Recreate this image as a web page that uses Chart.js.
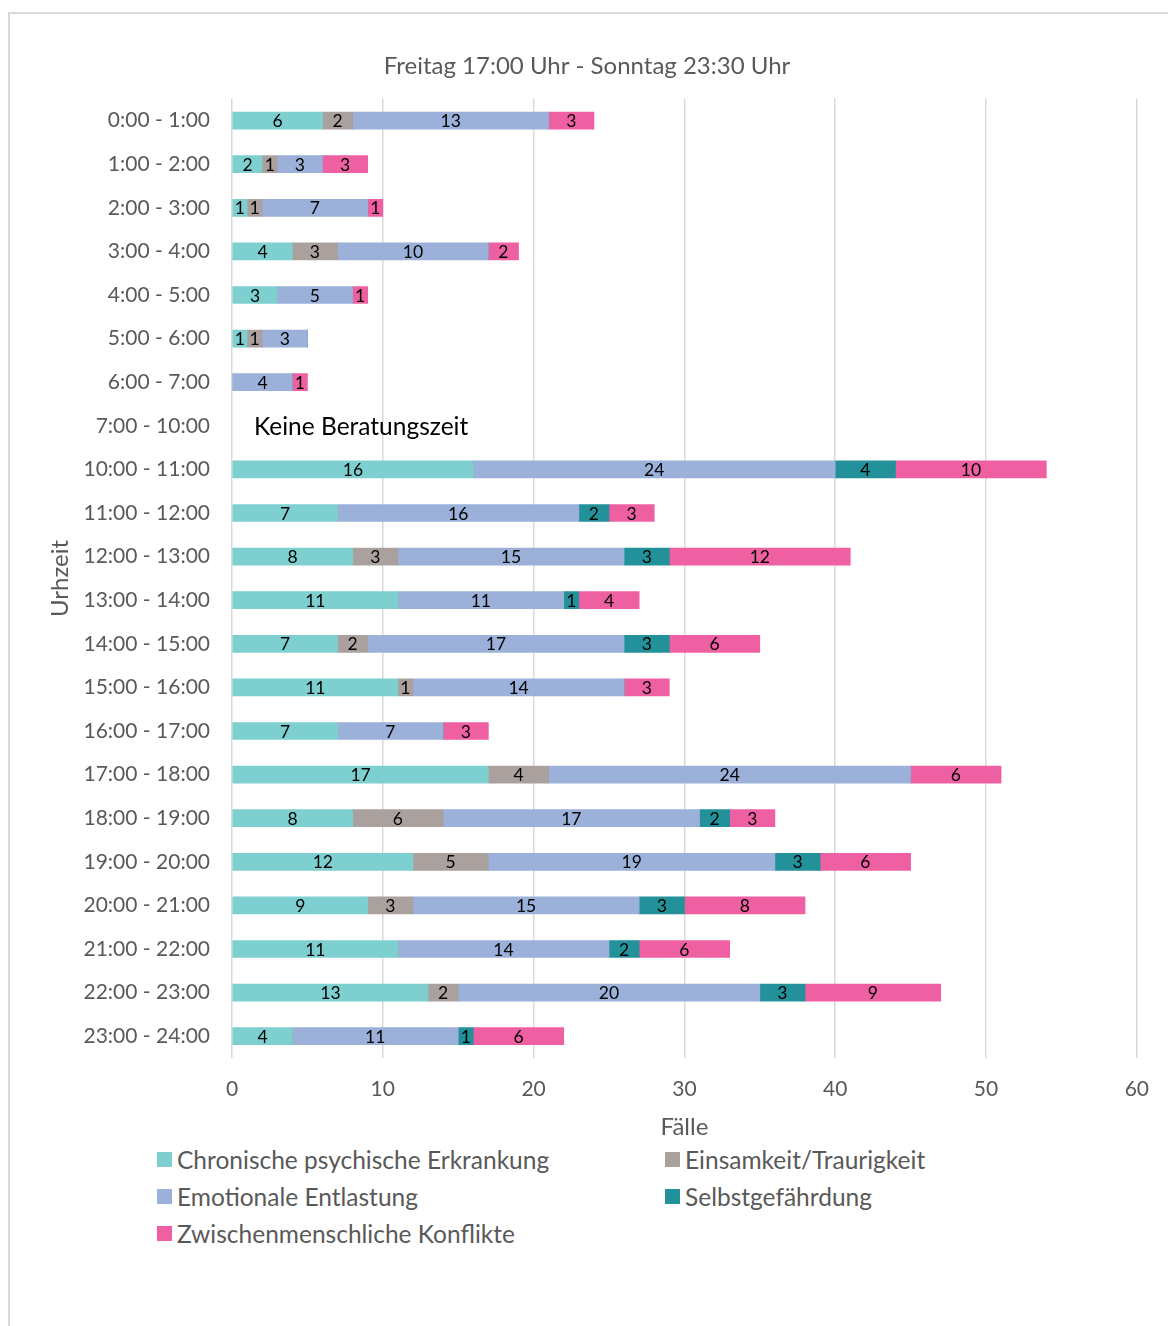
<!DOCTYPE html>
<html>
<head>
<meta charset="utf-8">
<script src="https://cdn.jsdelivr.net/npm/chart.js@4"></script>
<style>
    body { margin: 0; background: #fff; font-family: Lato, sans-serif; }
    #frame { position: absolute; left: 8px; top: 12px; width: 1200px; height: 1400px; border: 2px solid #d9d9d9; box-sizing: border-box; }
    #wrap { position: absolute; left: 0; top: 0; width: 1168px; height: 1145px; }
    #legend { position: absolute; left: 157px; top: 1146px; width: 1000px; display: grid; grid-template-columns: 508px 400px; row-gap: 11px; }
    .item { display: flex; align-items: center; font-size: 24.5px; color: #595959; height: 26px; }
    .box { width: 15px; height: 15px; margin-right: 5px; }
</style>
</head>
<body>
<div id="frame"></div>
<div id="wrap"><canvas id="chart"></canvas></div>
<div id="legend"></div>
<script>
// Uhrzeit-Kategorien
const hours = ['0:00 - 1:00', '1:00 - 2:00', '2:00 - 3:00', '3:00 - 4:00', '4:00 - 5:00', '5:00 - 6:00',
    '6:00 - 7:00', '7:00 - 10:00', '10:00 - 11:00', '11:00 - 12:00', '12:00 - 13:00', '13:00 - 14:00',
    '14:00 - 15:00', '15:00 - 16:00', '16:00 - 17:00', '17:00 - 18:00', '18:00 - 19:00', '19:00 - 20:00',
    '20:00 - 21:00', '21:00 - 22:00', '22:00 - 23:00', '23:00 - 24:00'];

// 7:00 - 10:00 keine Beratung -> null
const chronisch      = [6, 2, 1, 4, 3, 1, 0, null, 16, 7, 8, 11, 7, 11, 7, 17, 8, 12, 9, 11, 13, 4];
const einsamkeit     = [2, 1, 1, 3, 0, 1, 0, null, 0, 0, 3, 0, 2, 1, 0, 4, 6, 5, 3, 0, 2, 0];
const emotional      = [13, 3, 7, 10, 5, 3, 4, null, 24, 16, 15, 11, 17, 14, 7, 24, 17, 19, 15, 14, 20, 11];
const selbst         = [0, 0, 0, 0, 0, 0, 0, null, 4, 2, 3, 1, 3, 0, 0, 0, 2, 3, 3, 2, 3, 1];
const zwischen       = [3, 3, 1, 2, 1, 0, 1, null, 10, 3, 12, 4, 6, 3, 3, 6, 3, 6, 8, 6, 9, 6];

const xTicks = [0, 10, 20, 30, 40, 50, 60];
const noServiceLabel = '7:00 - 10:00';

const grey = '#595959';

// Zahlen mittig in die Segmente schreiben
const segmentLabels = {
    id: 'segmentLabels',
    afterDatasetsDraw(chart) {
        const ctx = chart.ctx;
        ctx.save();
        ctx.font = '17.5px Lato';
        ctx.fillStyle = '#000';
        ctx.textAlign = 'center';
        ctx.textBaseline = 'middle';
        chart.data.datasets.forEach((ds, i) => {
            chart.getDatasetMeta(i).data.forEach((bar, j) => {
                const v = ds.data[j];
                if (!v) return;
                const p = bar.getProps(['x', 'y', 'base'], true);
                ctx.fillText(v, (p.x + p.base) / 2, p.y + 1);
            });
        });
        // Hinweis für die Lücke
        const y = chart.scales.y.getPixelForValue(hours.indexOf(noServiceLabel));
        const x = chart.scales.x.getPixelForValue(0);
        ctx.font = '24.5px Lato';
        ctx.textAlign = 'left';
        ctx.fillText('Keine Beratungszeit', x + 22, y + 1);
        ctx.restore();
    }
};

const chart = new Chart(document.getElementById('chart'), {
    type: 'bar',
    data: {
        labels: hours,
        datasets: [
            { label: 'Chronische psychische Erkrankung', data: chronisch, backgroundColor: '#7ecfd0' },
            { label: 'Einsamkeit/Traurigkeit', data: einsamkeit, backgroundColor: '#aaa19e' },
            { label: 'Emotionale Entlastung', data: emotional, backgroundColor: '#9bb1da' },
            { label: 'Selbstgefährdung', data: selbst, backgroundColor: '#22919a' },
            { label: 'Zwischenmenschliche Konflikte', data: zwischen, backgroundColor: '#ef60a3' }
        ]
    },
    options: {
        indexAxis: 'y',
        responsive: true,
        maintainAspectRatio: false,
        animation: false,
        barThickness: 17,
        layout: { padding: { left: 36, right: 30, top: 0, bottom: 0 } },
        plugins: {
            legend: { display: false },
            tooltip: { enabled: false },
            title: {
                display: true,
                text: 'Freitag 17:00 Uhr - Sonntag 23:30 Uhr',
                color: grey,
                font: { family: 'Lato', size: 24, weight: 'normal', lineHeight: 1.2 },
                padding: { top: 52, bottom: 18 }
            }
        },
        scales: {
            x: {
                stacked: true,
                min: 0,
                max: 60,
                afterBuildTicks: (scale) => { scale.ticks = xTicks.map(v => ({ value: v })); },
                afterFit: (scale) => { scale.height = 87; },
                grid: { color: '#d9d9d9', lineWidth: 1.5, drawTicks: false },
                border: { display: false },
                ticks: { color: grey, font: { family: 'Lato', size: 21 }, padding: 19 },
                title: {
                    display: true, text: 'Fälle', color: grey,
                    font: { family: 'Lato', size: 24, lineHeight: 1.2 },
                    padding: { top: 0, bottom: 3 }
                }
            },
            y: {
                stacked: true,
                afterFit: (scale) => { scale.width = 196; },
                grid: { display: false, drawTicks: false },
                border: { display: false },
                ticks: { color: grey, font: { family: 'Lato', size: 21 }, padding: 22 },
                title: {
                    display: true, text: 'Urhzeit', color: grey,
                    font: { family: 'Lato', size: 24, lineHeight: 1.2 },
                    padding: { top: 10, bottom: 0 }
                }
            }
        }
    },
    plugins: [segmentLabels]
});

// Legende in zwei Spalten
const legend = document.getElementById('legend');
chart.data.datasets.forEach(ds => {
    const item = document.createElement('div');
    item.className = 'item';
    item.innerHTML = '<span class="box" style="background:' + ds.backgroundColor + '"></span>' + ds.label;
    legend.appendChild(item);
});
</script>
</body>
</html>
